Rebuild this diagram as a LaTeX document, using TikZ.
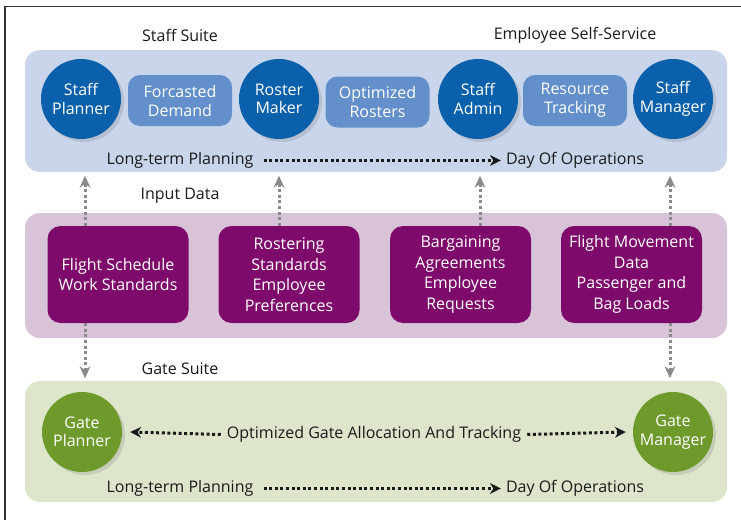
\documentclass[tikz,border=0pt]{standalone}
\usepackage{fontspec}
\setmainfont{Open Sans}
\usetikzlibrary{arrows.meta,shadows}
\definecolor{bluepanel}{HTML}{C8D5EB}
\definecolor{bluecirc}{HTML}{0A60AA}
\definecolor{bluerect}{HTML}{6390CB}
\definecolor{purplepanel}{HTML}{D9C3D9}
\definecolor{purplebox}{HTML}{7E0B6B}
\definecolor{greenpanel}{HTML}{DDE6CB}
\definecolor{greencirc}{HTML}{6E9A2C}
\definecolor{arrgray}{HTML}{8A8A8A}
\definecolor{txt}{HTML}{1A1A1A}
\begin{document}
\begin{tikzpicture}[x=1pt,y=-1pt,
  panel/.style={rounded corners=15pt, minimum width=702pt, inner sep=0pt},
  lbl/.style={font=\fontsize{16}{19}\selectfont, text=txt, inner sep=1pt, yshift=-1.5pt},
  bcirc/.style={circle, fill=bluecirc, minimum size=80pt, inner sep=0pt, align=center, text=white,
     font=\fontsize{16}{18.5}\selectfont, drop shadow={opacity=0.25, shadow xshift=3pt, shadow yshift=-3pt}},
  brect/.style={rounded corners=12pt, fill=bluerect, minimum width=104pt, minimum height=51pt, inner sep=0pt,
     align=center, text=white, font=\fontsize{16}{19}\selectfont},
  pbox/.style={rounded corners=13pt, fill=purplebox, minimum width=141pt, minimum height=97pt, inner sep=0pt,
     align=center, text=white, font=\fontsize{16}{20.5}\selectfont},
  gcirc/.style={circle, fill=greencirc, minimum size=80pt, inner sep=0pt, align=center, text=white,
     font=\fontsize{16}{18.5}\selectfont, drop shadow={opacity=0.25, shadow xshift=3pt, shadow yshift=-3pt}},
  darr/.style={draw=txt, line width=3pt, dash pattern=on 3pt off 2.6pt, -{Stealth[length=11pt,width=11pt,line width=0pt]}},
  garr/.style={draw=arrgray, line width=3pt, dash pattern=on 3pt off 2.6pt, -{Stealth[length=12pt,width=11pt,line width=0pt]}}
]
\useasboundingbox (0,0) rectangle (741,519);
\draw[line width=1.2pt, black!80] (5,530) -- (5,6.5) -- (750,6.5);

% panels
\node[panel, fill=bluepanel, minimum height=122pt] (staffpanel) at (376,111) {};
\node[panel, fill=purplepanel, minimum height=125pt] (inpanel) at (376,275.5) {};
\node[panel, fill=greenpanel, minimum height=121pt] (gatepanel) at (376,441.5) {};

% titles
\node[lbl] (staffsuite) at (180,34) {Staff Suite};
\node[lbl] (ess) at (575,34) {Employee Self-Service};
\node[lbl] (inputdata) at (180,194) {Input Data};
\node[lbl] (gatesuite) at (180,367) {Gate Suite};

% staff suite
\node[brect] (fd) at (180,100.5) {Forcasted\\Demand};
\node[brect] (or) at (377.5,102) {Optimized\\Rosters};
\node[brect] (rt) at (575,100.5) {Resource\\Tracking};
\node[bcirc] (sp) at (81,99) {Staff\\Planner};
\node[bcirc] (rm) at (279,99) {Roster\\Maker};
\node[bcirc] (sa) at (478,99) {Staff\\Admin};
\node[bcirc] (sm) at (673,99) {Staff\\Manager};

\node[lbl] (ltp1) at (180,159) {Long-term Planning};
\node[lbl] (doo1) at (575,159) {Day Of Operations};
\draw[darr] ([xshift=9pt]ltp1.east) -- ([xshift=-4pt]doo1.west);

% input data
\node[pbox] (b1) at (118,274.5) {Flight Schedule\\Work Standards};
\node[pbox] (b2) at (289,274.5) {Rostering\\Standards\\Employee\\Preferences};
\node[pbox] (b3) at (460.5,274.5) {Bargaining\\Agreements\\Employee\\Requests};
\node[pbox] (b4) at (631.5,274.5) {Flight Movement\\Data\\Passenger and\\Bag Loads};

\draw[garr] ([xshift=-33pt]b1.north) -- ++(0,-50);
\draw[garr] ([xshift=-10pt]b2.north) -- ++(0,-50);
\draw[garr] ([xshift=19.5pt]b3.north) -- ++(0,-50);
\draw[garr] ([xshift=38.5pt]b4.north) -- ++(0,-50);
\draw[garr] ([xshift=-33pt]b1.south) -- ++(0,55);
\draw[garr] ([xshift=38.5pt]b4.south) -- ++(0,55);

% gate suite
\node[gcirc] (gp) at (82,432) {Gate\\Planner};
\node[gcirc] (gm) at (673,432) {Gate\\Manager};
\node[lbl] (oga) at (374,433) {Optimized Gate Allocation And Tracking};
\draw[darr] ([xshift=-5pt]oga.west) -- ([xshift=8pt]gp.east);
\draw[darr] ([xshift=5pt]oga.east) -- ([xshift=-7pt]gm.west);

\node[lbl] (ltp2) at (180,487) {Long-term Planning};
\node[lbl] (doo2) at (575,487) {Day Of Operations};
\draw[darr] ([xshift=9pt]ltp2.east) -- ([xshift=-4pt]doo2.west);
\end{tikzpicture}
\end{document}
